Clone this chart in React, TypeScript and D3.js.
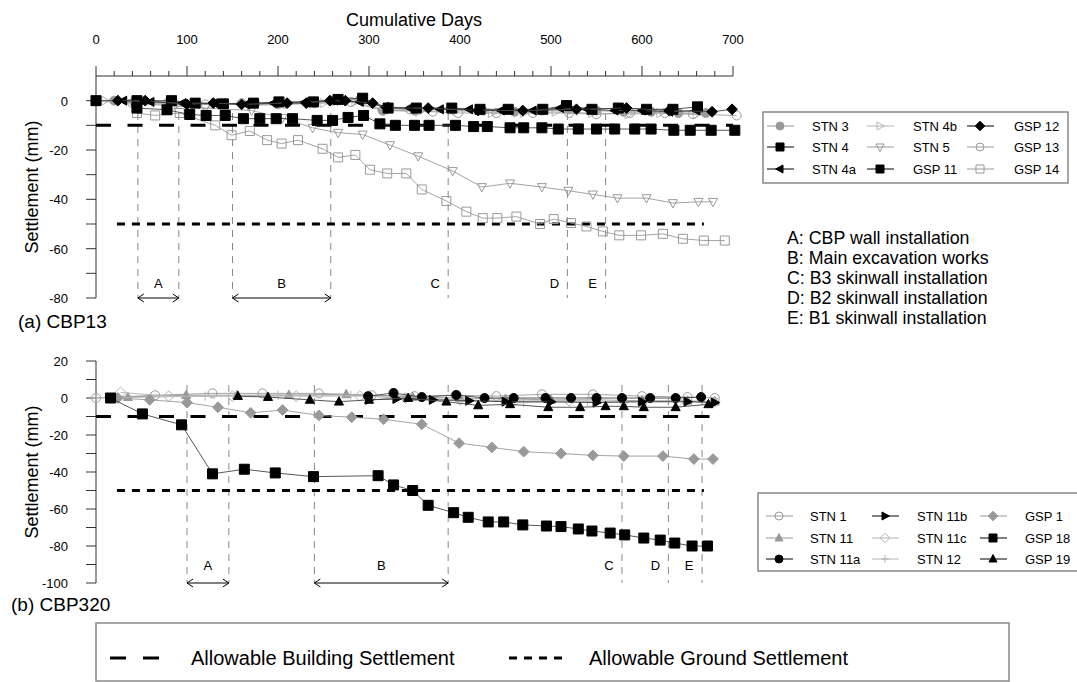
import { useEffect, useRef } from 'react';
import * as d3 from 'd3';

type Pt = [number, number];

// ---- panel (a) CBP13 : [cumulative day, settlement mm]
const stn3: Pt[] = [[20, 0], [45, -1], [80, -0.5], [110, -1], [140, -1.5], [175, -1], [200, -1], [235, -0.5], [260, 0], [290, 0.5], [315, -4], [350, -4], [390, -3.5], [425, -4], [460, -4.5], [490, -4], [520, -3.5], [550, -4], [580, -4.5], [610, -4.5], [640, -5], [670, -5]];
const stn4: Pt[] = [[0, 0], [45, 0], [83, 0], [109, -1], [140, -1.3], [173, -1], [201, -0.5], [239, -0.5], [266, 0.5], [293, 1], [321, -3], [352, -3], [391, -3], [422, -3.5], [453, -3.5], [491, -3.5], [517, -2], [545, -3.5], [574, -3], [605, -3.5], [634, -3.5], [661, -2.5]];
const stn4a: Pt[] = [[30, 0], [60, -0.5], [95, -1], [130, -1], [165, -1.5], [195, -1], [230, -0.5], [262, 0], [290, -0.5], [318, -2.5], [345, -3], [378, -3.5], [410, -3.5], [445, -4], [480, -4], [510, -3], [540, -3.5], [570, -4], [600, -4], [630, -4.5], [660, -4]];
const stn4b: Pt[] = [[10, 0], [50, -0.5], [90, -1.5], [130, -1], [170, -2], [210, -1.5], [250, -1], [285, -0.5], [320, -4], [355, -4.5], [395, -4], [435, -5], [470, -5], [505, -4.5], [545, -5], [585, -5.5], [620, -5], [660, -5.5]];
const stn5: Pt[] = [[0, 0], [40, -1], [80, -2], [120, -3], [171, -4], [205, -7], [238, -11], [266, -13], [293, -13.7], [323, -18], [354, -22.5], [392, -28.5], [424, -35], [455, -33.5], [490, -35], [519, -36.5], [546, -38], [573, -39.5], [605, -39.5], [634, -41.5], [662, -41], [678, -41]];
const gsp11: Pt[] = [[45, -3], [78, -3.7], [103, -5.6], [121, -6], [142, -6], [162, -7.3], [180, -7.3], [198, -7.3], [216, -7.3], [243, -8], [260, -8], [277, -6.8], [294, -6], [312, -9.4], [329, -10], [350, -10], [366, -10], [395, -10], [415, -10.5], [430, -10.5], [455, -11], [470, -11], [490, -11], [508, -11.5], [530, -11.5], [550, -11.5], [570, -11.5], [592, -11.5], [610, -11.5], [635, -12], [653, -12], [676, -12], [702, -12]];
const gsp12: Pt[] = [[24, 0], [54, 0], [100, -1.5], [129, -1], [160, -1.5], [210, -1], [231, -1], [257, 0], [274, 0], [304, -1], [320, -3], [365, -3], [420, -4], [469, -4], [528, -3.5], [583, -3], [630, -4], [677, -4.5], [699, -3.5]];
const gsp13: Pt[] = [[40, -1], [85, -1.5], [120, -1.5], [160, -1], [200, -1.5], [240, -1], [280, -0.5], [315, -4], [345, -3.5], [370, -4.5], [398, -5], [440, -5], [480, -5], [520, -5], [550, -5.5], [587, -5], [625, -5], [656, -5.5], [704, -6]];
const gsp14: Pt[] = [[45, -5], [65, -6], [92, -5], [131, -10], [149, -14], [169, -12.3], [188, -16], [204, -17.4], [222, -16], [249, -19.5], [266, -23], [285, -22], [301, -28], [320, -29.5], [341, -29.5], [358, -36], [385, -40.7], [407, -45], [425, -47.6], [441, -47.6], [462, -47], [488, -50], [503, -48], [522, -49.6], [539, -51], [557, -53], [575, -54.6], [599, -54.6], [623, -54], [645, -56], [668, -56.7], [691, -56.7]];

// ---- panel (b) CBP320
const stn1: Pt[] = [[0, 0], [65, 1.5], [128, 2.5], [183, 2.5], [245, 2.5], [303, 1.5], [350, 1], [395, 1.5], [440, 1], [490, 2], [546, 2], [600, 1], [650, 0.5], [680, 0]];
const stn11: Pt[] = [[35, 0.5], [99, 1.5], [155, 1.5], [212, 1.6], [275, 2], [348, 0.5], [400, 0], [450, -0.5], [500, -1], [550, -1], [600, -1.5], [650, -1.5], [680, -2]];
const stn11a: Pt[] = [[299, 1], [327, 2.7], [358, 0.5], [396, 1.6], [427, 0], [459, 0], [494, 0], [522, 0], [550, 0], [578, 0], [609, 0], [637, 0], [665, 0.5]];
const stn11b: Pt[] = [[300, -1], [330, -0.5], [370, -1], [410, -1.5], [450, -2], [500, -2], [550, -2.5], [600, -2], [650, -2], [680, -2.5]];
const stn11c: Pt[] = [[27, 3], [80, 1], [150, 1], [220, 1], [290, 1], [340, 0], [400, -1], [460, -1.5], [520, -1.5], [580, -2], [640, -2], [680, -2]];
const stn12: Pt[] = [[0, 0], [60, 0.5], [120, 1], [200, 1.5], [280, 1.5], [340, 0], [400, -1], [470, -2.5], [540, -2], [600, -2], [680, -2]];
const gsp1: Pt[] = [[24, 0], [59, -1], [100, -2.5], [134, -5], [170, -8], [205, -6.5], [245, -9.4], [281, -10.4], [316, -11.5], [358, -14.2], [399, -24.4], [435, -26.7], [470, -29], [511, -30], [546, -31], [580, -31.4], [623, -31.4], [657, -33], [678, -33]];
const gsp18: Pt[] = [[16, 0], [51, -8.6], [94, -14.5], [128, -41], [163, -38.5], [197, -40.5], [239, -42.5], [310, -42], [327, -47], [348, -50], [365, -58], [393, -62], [409, -64.5], [431, -67], [448, -67], [469, -68.6], [495, -69.2], [511, -69.5], [530, -70.8], [545, -71.9], [565, -73], [581, -74], [602, -75.7], [620, -76.8], [636, -78.4], [655, -80], [672, -80]];
const gsp19: Pt[] = [[156, 1], [189, 0.5], [235, -1], [267, -2], [300, -1], [343, 0], [385, -2], [420, -4], [455, -3.4], [497, -5], [532, -5], [560, -4.5], [580, -4.5], [602, -5], [637, -5], [673, -3.4]];

// construction stages (day of vertical dashed lines)
const stagesA = [46, 91, 150, 258, 387, 518, 560];
const stagesB = [100, 146, 240, 387, 578, 629, 666];
const stageNotes = [
  'A: CBP wall installation',
  'B: Main excavation works',
  'C: B3 skinwall installation',
  'D: B2 skinwall installation',
  'E: B1 skinwall installation',
];

const dayTicks = [0, 100, 200, 300, 400, 500, 600, 700];
const ticksA = [-80, -70, -60, -50, -40, -30, -20, -10, 0];
const labelsA = [-80, -60, -40, -20, 0];
const ticksB = [-100, -90, -80, -70, -60, -50, -40, -30, -20, -10, 0, 10, 20];
const labelsB = [-100, -80, -60, -40, -20, 0, 20];

const BUILDING = -10;
const GROUND = -50;

const GRAY = '#999';
const LGRAY = '#b5b5b5';
const FONT = '"Liberation Sans", Arial, sans-serif';

type Shape = 'circle' | 'square' | 'diamond' | 'up' | 'down' | 'left' | 'right' | 'plus';
interface Series { name: string; data: Pt[]; shape: Shape; fill: string; stroke: string }

const seriesA: Series[] = [
  { name: 'STN 3', data: stn3, shape: 'circle', fill: GRAY, stroke: GRAY },
  { name: 'STN 4', data: stn4, shape: 'square', fill: '#000', stroke: '#000' },
  { name: 'STN 4a', data: stn4a, shape: 'left', fill: '#000', stroke: '#000' },
  { name: 'STN 4b', data: stn4b, shape: 'right', fill: 'none', stroke: LGRAY },
  { name: 'STN 5', data: stn5, shape: 'down', fill: 'none', stroke: GRAY },
  { name: 'GSP 11', data: gsp11, shape: 'square', fill: '#000', stroke: '#000' },
  { name: 'GSP 12', data: gsp12, shape: 'diamond', fill: '#000', stroke: '#000' },
  { name: 'GSP 13', data: gsp13, shape: 'circle', fill: 'none', stroke: GRAY },
  { name: 'GSP 14', data: gsp14, shape: 'square', fill: 'none', stroke: GRAY },
];

const seriesB: Series[] = [
  { name: 'STN 1', data: stn1, shape: 'circle', fill: 'none', stroke: GRAY },
  { name: 'STN 11', data: stn11, shape: 'up', fill: GRAY, stroke: GRAY },
  { name: 'STN 11a', data: stn11a, shape: 'circle', fill: '#000', stroke: '#000' },
  { name: 'STN 11b', data: stn11b, shape: 'right', fill: '#000', stroke: '#000' },
  { name: 'STN 11c', data: stn11c, shape: 'diamond', fill: 'none', stroke: LGRAY },
  { name: 'STN 12', data: stn12, shape: 'plus', fill: 'none', stroke: LGRAY },
  { name: 'GSP 1', data: gsp1, shape: 'diamond', fill: GRAY, stroke: GRAY },
  { name: 'GSP 18', data: gsp18, shape: 'square', fill: '#000', stroke: '#000' },
  { name: 'GSP 19', data: gsp19, shape: 'up', fill: '#000', stroke: '#000' },
];

function shapePath(shape: Shape, r: number): string {
  switch (shape) {
    case 'square':
      return `M${-r},${-r}h${2 * r}v${2 * r}h${-2 * r}Z`;
    case 'diamond': {
      const q = r * 1.2;
      return `M0,${-q}L${q},0L0,${q}L${-q},0Z`;
    }
    case 'plus':
      return `M${-r},0h${2 * r}M0,${-r}v${2 * r}`;
    default:
      // triangle pointing up, rotated for the other directions
      return `M0,${-r * 1.1}L${r},${r * 0.75}L${-r},${r * 0.75}Z`;
  }
}

const rotation: Record<string, number> = { up: 0, down: 180, left: -90, right: 90 };

function marker(g: d3.Selection<SVGGElement, unknown, null, undefined>, s: Series, x: number, y: number, r: number) {
  if (s.shape === 'circle') {
    g.append('circle').attr('cx', x).attr('cy', y).attr('r', r)
      .attr('fill', s.fill).attr('stroke', s.stroke).attr('stroke-width', 1);
    return;
  }
  g.append('path')
    .attr('d', shapePath(s.shape, r))
    .attr('transform', `translate(${x},${y}) rotate(${rotation[s.shape] ?? 0})`)
    .attr('fill', s.fill)
    .attr('stroke', s.stroke)
    .attr('stroke-width', 1);
}

export default function App() {
  const svgRef = useRef<SVGSVGElement>(null);

  useEffect(() => {
    if (!svgRef.current) return;
    const svg = d3.select(svgRef.current);
    svg.selectAll('*').remove();

    const x = d3.scaleLinear().domain([0, 700]).range([96, 733]);
    const yA = d3.scaleLinear().domain([-80, 10]).range([298, 76]);
    const yB = d3.scaleLinear().domain([-100, 20]).range([583, 361]);

    const root = svg.append('g').attr('font-family', FONT);

    // top axis (cumulative days)
    const top = root.append('g');
    top.append('line').attr('x1', x(0)).attr('x2', x(700)).attr('y1', 76).attr('y2', 76).attr('stroke', '#333');
    d3.range(0, 701, 20).forEach((d) => {
      const major = d % 100 === 0;
      top.append('line').attr('x1', x(d)).attr('x2', x(d)).attr('y1', 76).attr('y2', major ? 66 : 71).attr('stroke', '#333');
    });
    top.selectAll('text.tick').data(dayTicks).join('text')
      .attr('x', (d) => x(d)).attr('y', 44).attr('text-anchor', 'middle').attr('font-size', 13).text((d) => d);
    top.append('text').attr('x', 414).attr('y', 26).attr('text-anchor', 'middle').attr('font-size', 18).text('Cumulative Days');

    const panel = (
      y: d3.ScaleLinear<number, number>,
      ticks: number[],
      labels: number[],
      series: Series[],
      stages: number[],
      stageTop: number,
      labelVal: number,
      arrowVal: number,
      buildEnd: number,
    ) => {
      const g = root.append('g');
      const [yMin, yMax] = y.domain();
      // y axis
      g.append('line').attr('x1', 96).attr('x2', 96).attr('y1', y(yMax)).attr('y2', y(yMin)).attr('stroke', '#333');
      ticks.forEach((t) => {
        g.append('line').attr('x1', 86).attr('x2', 96).attr('y1', y(t)).attr('y2', y(t)).attr('stroke', '#333');
      });
      g.selectAll('text.yl').data(labels).join('text')
        .attr('x', 68).attr('y', (d) => y(d) + 5).attr('text-anchor', 'end').attr('font-size', 13).text((d) => d);
      const midY = (y(yMax) + y(yMin)) / 2;
      g.append('text').attr('transform', `translate(38,${midY}) rotate(-90)`)
        .attr('text-anchor', 'middle').attr('font-size', 18).text('Settlement (mm)');

      // stage lines
      stages.forEach((s) => {
        g.append('line').attr('x1', x(s)).attr('x2', x(s)).attr('y1', y(stageTop)).attr('y2', y(yMin))
          .attr('stroke', '#888').attr('stroke-dasharray', '7,6');
      });
      const ly = y(labelVal) + 5;
      g.append('text').attr('x', (x(stages[0]) + x(stages[1])) / 2).attr('y', ly).attr('text-anchor', 'middle').attr('font-size', 13).text('A');
      g.append('text').attr('x', (x(stages[2]) + x(stages[3])) / 2).attr('y', ly).attr('text-anchor', 'middle').attr('font-size', 13).text('B');
      ['C', 'D', 'E'].forEach((c, i) => {
        g.append('text').attr('x', x(stages[4 + i]) - 13).attr('y', ly).attr('text-anchor', 'middle').attr('font-size', 13).text(c);
      });
      const ay = y(arrowVal);
      [[0, 1], [2, 3]].forEach(([a, b]) => {
        const x1 = x(stages[a]);
        const x2 = x(stages[b]);
        g.append('path')
          .attr('d', `M${x1},${ay}H${x2}M${x1 + 6},${ay - 4}L${x1},${ay}L${x1 + 6},${ay + 4}M${x2 - 6},${ay - 4}L${x2},${ay}L${x2 - 6},${ay + 4}`)
          .attr('fill', 'none').attr('stroke', '#000').attr('stroke-width', 1);
      });

      // allowable lines
      g.append('line').attr('x1', x(0)).attr('x2', x(buildEnd)).attr('y1', y(BUILDING)).attr('y2', y(BUILDING))
        .attr('stroke', '#000').attr('stroke-width', 3).attr('stroke-dasharray', '15,16.5');
      g.append('line').attr('x1', x(23)).attr('x2', x(668)).attr('y1', y(GROUND)).attr('y2', y(GROUND))
        .attr('stroke', '#000').attr('stroke-width', 3).attr('stroke-dasharray', '8,7');

      // series: gray first, black on top
      const ordered = [...series].sort((a, b) => (a.stroke === '#000' ? 1 : 0) - (b.stroke === '#000' ? 1 : 0));
      const line = d3.line<Pt>().x((d) => x(d[0])).y((d) => y(d[1]));
      ordered.forEach((s) => {
        const sg = g.append('g');
        sg.append('path').datum(s.data).attr('d', line).attr('fill', 'none')
          .attr('stroke', s.stroke === '#000' ? '#444' : s.stroke).attr('stroke-width', 0.9);
        const r = s.shape === 'square' && s.fill === '#000' ? 5 : 4.5;
        s.data.forEach((d) => marker(sg, s, x(d[0]), y(d[1]), r));
      });
    };

    panel(yA, ticksA, labelsA, seriesA, stagesA, -5, -74, -80, 700);
    panel(yB, ticksB, labelsB, seriesB, stagesB, 7, -90.5, -100, 680);

    // panel titles
    root.append('text').attr('x', 18).attr('y', 328).attr('font-size', 19).text('(a) CBP13');
    root.append('text').attr('x', 11).attr('y', 611).attr('font-size', 19).text('(b) CBP320');

    // stage notes
    stageNotes.forEach((t, i) => {
      root.append('text').attr('x', 787).attr('y', 244 + i * 20).attr('font-size', 17.8).text(t);
    });

    // series legends
    const legend = (series: Series[], bx: number, by: number, bw: number, bh: number, rows: number[], cols: number[][]) => {
      const g = root.append('g');
      g.append('rect').attr('x', bx).attr('y', by).attr('width', bw).attr('height', bh)
        .attr('fill', 'none').attr('stroke', '#888').attr('stroke-width', 1.5);
      series.forEach((s, i) => {
        const col = Math.floor(i / 3);
        const row = i % 3;
        const [sx, tx] = cols[col];
        const yy = rows[row];
        g.append('line').attr('x1', sx - 13).attr('x2', sx + 14).attr('y1', yy).attr('y2', yy)
          .attr('stroke', s.stroke === '#000' ? '#000' : s.stroke);
        marker(g, s, sx, yy, 4);
        g.append('text').attr('x', tx).attr('y', yy + 5).attr('font-size', 13).text(s.name);
      });
    };
    legend(seriesA, 763, 112, 305, 71, [126, 147, 169], [[780, 812], [880, 913], [980, 1014]]);
    legend(seriesB, 758, 493, 330, 78, [516, 538, 559], [[779, 810], [885, 917], [993, 1025]]);

    // allowable settlement legend
    const bl = root.append('g');
    bl.append('rect').attr('x', 96).attr('y', 623).attr('width', 913).attr('height', 58)
      .attr('fill', 'none').attr('stroke', '#888').attr('stroke-width', 1.5);
    bl.append('line').attr('x1', 110).attr('x2', 159).attr('y1', 658).attr('y2', 658)
      .attr('stroke', '#000').attr('stroke-width', 3).attr('stroke-dasharray', '16,17');
    bl.append('text').attr('x', 191).attr('y', 665).attr('font-size', 20).text('Allowable Building Settlement');
    bl.append('line').attr('x1', 509).attr('x2', 562).attr('y1', 658).attr('y2', 658)
      .attr('stroke', '#000').attr('stroke-width', 3).attr('stroke-dasharray', '8,7');
    bl.append('text').attr('x', 589).attr('y', 665).attr('font-size', 20).text('Allowable Ground Settlement');
  }, []);

  return (
    <div style={{ position: 'absolute', left: 0, top: 0, width: 1077, height: 682, background: '#fff' }}>
      <svg ref={svgRef} width={1077} height={682} style={{ display: 'block' }} />
    </div>
  );
}
